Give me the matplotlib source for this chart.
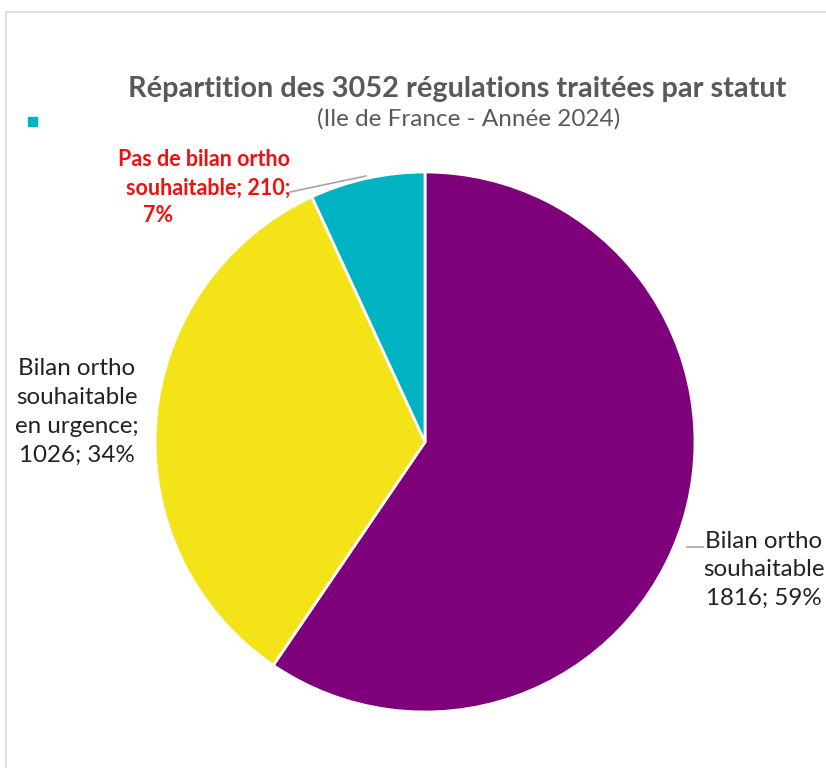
import matplotlib.pyplot as plt
from matplotlib.patches import Rectangle

labels = ['Bilan ortho\nsouhaitable\n1816; 59%',
          'Bilan ortho\nsouhaitable\nen urgence;\n1026; 34%',
          'Pas de bilan ortho\nsouhaitable; 210;\n7%']
values = [1816, 1026, 210]
colors = ['#7f007b', '#f5e31a', '#00b3c2']

plt.rcParams['font.family'] = ['Lato', 'DejaVu Sans']

fig = plt.figure(figsize=(8.26, 7.68), dpi=100)

# light frame like the spreadsheet chart area
fig.patches.append(Rectangle((6 / 826, -0.01), 1.0, (768 - 12) / 768 + 0.01,
                             transform=fig.transFigure, fill=False,
                             edgecolor='#d9d9d9', linewidth=1.2))

fig.text(457 / 826, 1 - 89 / 768, 'Répartition des 3052 régulations traitées par statut',
         ha='center', va='center', fontsize=20.8, fontweight='bold', color='#595959')
fig.text(469 / 826, 1 - 119 / 768, '(Ile de France - Année 2024)',
         ha='center', va='center', fontsize=17.5, color='#595959')

# tiny legend marker
fig.patches.append(Rectangle((28 / 826, 1 - 126 / 768), 9 / 826, 9 / 768,
                             transform=fig.transFigure, color=colors[2]))

ax = fig.add_axes([(425 - 270) / 826, (768 - 442 - 270) / 768, 540 / 826, 540 / 768])
ax.pie(values, colors=colors, startangle=90, counterclock=False,
       wedgeprops=dict(edgecolor='white', linewidth=2))
ax.set_xlim(-1, 1)
ax.set_ylim(-1, 1)
ax.set_aspect('equal')
ax.axis('off')

# data labels
fig.text(764 / 826, 1 - 570 / 768, labels[0], ha='center', va='center',
         fontsize=17.4, color='#222222', linespacing=1.46)
fig.text(77 / 826, 1 - 412 / 768, labels[1], ha='center', va='center',
         fontsize=17.4, color='#222222', linespacing=1.46)

red_lines = labels[2].split('\n')
fig.text(290 / 826, 1 - 160 / 768, red_lines[0], ha='right', va='center',
         fontsize=15.5, fontweight='bold', color='#ee1111')
fig.text(290 / 826, 1 - 188 / 768, red_lines[1], ha='right', va='center',
         fontsize=15.5, fontweight='bold', color='#ee1111')
fig.text(158 / 826, 1 - 215 / 768, red_lines[2], ha='center', va='center',
         fontsize=15.5, fontweight='bold', color='#ee1111')

# leader lines
fig.add_artist(plt.Line2D([290 / 826, 366 / 826], [1 - 192 / 768, 1 - 176 / 768],
                          color='#a6a6a6', linewidth=1.2))
fig.add_artist(plt.Line2D([687 / 826, 703 / 826], [1 - 547 / 768, 1 - 547 / 768],
                          color='#a6a6a6', linewidth=1.2))

fig.savefig('out.png', dpi=100)
